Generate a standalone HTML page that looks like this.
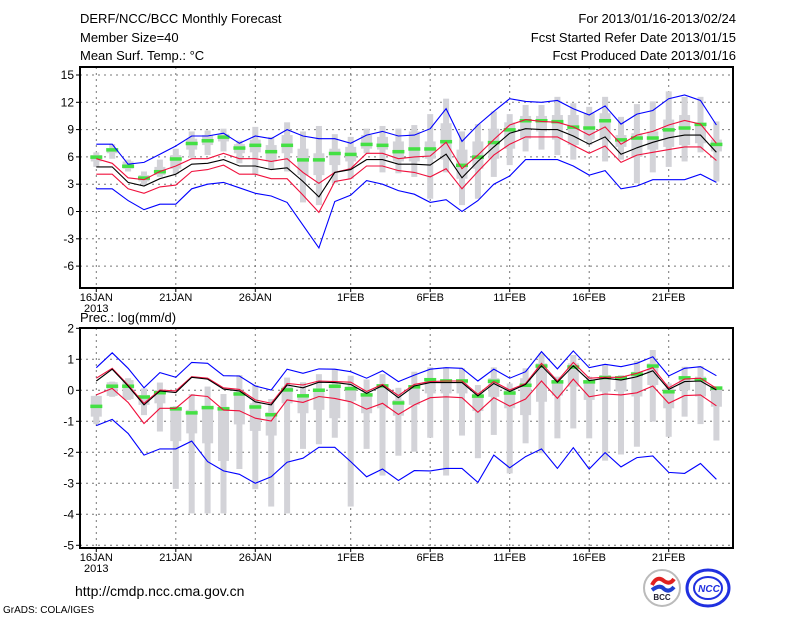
<!DOCTYPE html>
<html><head><meta charset="utf-8"><style>
body{margin:0;background:#fff;width:800px;height:618px;overflow:hidden}
svg{display:block;font-family:"Liberation Sans",sans-serif}
</style></head><body>
<svg id="chart" width="800" height="618" viewBox="0 0 800 618">
<g font-size="13" fill="#000">
<text x="80" y="23">DERF/NCC/BCC Monthly Forecast</text>
<text x="80" y="42">Member Size=40</text>
<text x="80" y="60">Mean Surf. Temp.: °C</text>
<text x="736" y="23" text-anchor="end">For 2013/01/16-2013/02/24</text>
<text x="736" y="42" text-anchor="end">Fcst Started Refer Date 2013/01/15</text>
<text x="736" y="60" text-anchor="end">Fcst Produced Date 2013/01/16</text>
<text x="80" y="322">Prec.: log(mm/d)</text>
</g>
<g id="top"></g>
<g id="bot"></g>
<text x="75" y="596" font-size="14">http://cmdp.ncc.cma.gov.cn</text>
<text x="3" y="613" font-size="10">GrADS: COLA/IGES</text>
<g>
<circle cx="662" cy="588" r="18" fill="#fff" stroke="#bbb" stroke-width="2"/>
<path d="M652 585 q5 -10 12 -4 q6 4 10 -2" stroke="#e02020" stroke-width="4" fill="none"/>
<path d="M652 590 q8 -6 12 -1 q5 4 10 -2" stroke="#2040d0" stroke-width="4" fill="none"/>
<text x="662" y="600" font-size="8" font-weight="bold" text-anchor="middle" fill="#223">BCC</text>
</g>
<g>
<ellipse cx="708" cy="588" rx="21" ry="18" fill="#fff" stroke="#2030e0" stroke-width="3"/>
<ellipse cx="708" cy="588" rx="14" ry="11" fill="none" stroke="#2030e0" stroke-width="2"/>
<text x="709" y="592" font-size="10" font-weight="bold" font-style="italic" text-anchor="middle" fill="#2030e0">NCC</text>
</g>
</svg>
<script>
const dayLabels=["16JAN","21JAN","26JAN","1FEB","6FEB","11FEB","16FEB","21FEB"];
const dayLabelIdx=[0,5,10,16,21,26,31,36];
const tTicks=[15,12,9,6,3,0,-3,-6];
const pTicks=[2,1,0,-1,-2,-3,-4,-5];
// Temperature series
const tBlueHi=[7.4,7.4,5.2,5.4,6.3,7.2,8.3,8.3,8.6,7.5,8.3,8.0,9.0,8.3,8.0,8.0,7.5,8.4,8.8,8.3,8.4,9.1,11.3,7.7,9.5,11.0,12.4,12.1,12.0,12.2,11.3,10.6,11.6,9.6,10.7,11.1,12.4,12.8,12.2,9.5];
const tBlueLo=[2.5,2.5,1.2,0.2,0.8,0.8,2.5,3.0,3.2,2.6,2.0,1.7,1.0,-1.5,-4.0,1.1,1.8,3.4,3.0,2.3,1.9,1.0,1.3,0.0,1.2,3.0,3.9,5.7,5.7,5.7,5.0,4.0,4.5,2.5,2.8,3.5,3.5,3.5,4.1,3.2];
const tRedHi=[5.8,5.3,3.7,3.5,4.4,5.0,5.8,5.8,6.4,5.8,5.8,5.5,5.8,4.3,3.1,4.3,4.7,6.4,6.4,5.8,6.0,6.1,7.6,4.7,6.2,7.9,9.5,10.1,9.9,9.8,9.3,8.4,9.3,7.4,8.4,8.8,9.5,10.0,9.6,7.5];
const tMean=[4.9,4.9,3.2,2.8,3.6,4.1,5.2,5.3,5.7,5.0,5.0,4.6,4.8,3.3,1.6,4.3,4.6,5.7,5.7,5.2,5.2,5.1,6.3,3.7,5.5,7.1,8.6,9.1,9.0,9.0,8.3,7.4,8.2,6.3,7.0,7.6,8.1,8.4,8.4,6.5];
const tRedLo=[4.1,4.1,2.5,2.0,2.7,2.9,4.4,4.6,5.1,4.1,4.1,3.6,3.6,1.8,-0.1,3.3,3.6,5.0,5.0,4.5,4.3,3.8,4.7,2.5,4.4,6.2,7.4,8.2,8.2,8.2,7.3,6.4,7.2,5.4,6.2,6.5,6.8,7.1,7.1,5.6];
const tGreen=[6.0,6.8,5.0,3.7,4.4,5.8,7.5,7.8,8.2,7.0,7.3,6.6,7.3,5.7,5.7,6.4,6.3,7.4,7.3,6.6,6.9,6.9,7.7,5.1,6.0,7.6,9.0,10.0,10.0,9.9,9.3,9.2,10.0,7.9,8.1,8.1,9.0,9.2,9.6,7.4];
const tMax=[6.5,7.4,5.7,4.4,5.7,6.9,8.8,8.9,9.1,7.8,9.3,8.2,9.8,8.8,9.4,8.5,8.2,9.1,9.4,9.1,9.5,10.7,12.4,8.8,9.6,11.0,10.7,11.7,11.7,12.6,11.9,11.5,12.6,10.4,11.8,12.1,13.2,12.6,12.6,9.9];
const tMin=[4.9,5.8,4.4,2.9,3.8,4.1,5.9,6.2,6.6,5.3,4.1,4.6,4.4,1.0,0.7,3.1,3.6,6.4,4.3,4.2,3.8,1.4,4.3,0.7,1.4,3.8,5.1,6.6,6.8,6.2,5.7,7.3,5.5,5.7,3.1,4.3,4.9,5.5,6.5,3.3];
const tQ3=[6.2,6.9,5.5,4.0,4.9,6.2,8.0,8.4,8.5,7.4,7.9,7.3,8.4,6.9,6.4,6.9,7.1,8.4,8.2,7.7,8.8,7.7,9.7,6.8,7.7,9.1,9.8,10.5,10.5,10.6,10.6,10.8,10.8,8.4,8.6,8.8,10.1,10.6,9.6,7.9];
const tQ1=[5.5,6.4,4.7,3.3,4.0,4.7,6.8,7.3,7.7,6.4,6.5,5.5,6.4,4.0,4.0,5.1,5.5,6.9,6.8,5.5,5.5,5.8,5.7,3.6,4.7,5.8,6.9,8.0,8.8,7.9,7.3,7.9,7.9,7.1,6.0,6.8,7.1,7.3,7.5,6.6];
// Precipitation series
const pBlueHi=[0.73,1.21,0.71,0.08,0.57,0.42,0.90,0.87,0.47,0.46,0.14,0.01,0.68,0.55,0.69,0.68,0.60,0.39,0.63,0.28,0.49,0.68,0.73,0.71,0.30,0.68,0.39,0.60,1.25,0.69,1.27,0.73,0.84,0.76,0.87,1.08,0.46,0.71,0.76,0.47];
const pBlueLo=[-1.14,-0.94,-1.39,-2.09,-1.89,-1.89,-1.64,-2.30,-2.60,-2.71,-3.00,-2.79,-2.32,-2.19,-1.84,-1.84,-2.30,-2.79,-2.54,-2.91,-2.59,-2.60,-2.52,-2.52,-2.97,-2.09,-2.50,-2.14,-1.89,-2.52,-1.85,-2.54,-2.01,-2.47,-2.17,-2.12,-2.65,-2.68,-2.36,-2.87];
const pRedHi=[0.39,0.71,0.17,-0.42,0.01,-0.02,0.44,0.39,0.08,0.03,-0.31,-0.42,0.22,0.17,0.30,0.28,0.26,-0.04,0.19,-0.17,0.19,0.28,0.30,0.30,-0.13,0.28,0.01,0.22,0.87,0.30,0.90,0.39,0.42,0.42,0.55,0.73,0.08,0.36,0.39,0.06];
const pMean=[0.30,0.68,0.14,-0.47,-0.02,-0.07,0.42,0.36,0.04,-0.02,-0.37,-0.47,0.17,0.08,0.26,0.25,0.19,-0.10,0.15,-0.24,0.14,0.25,0.25,0.25,-0.18,0.22,-0.04,0.19,0.79,0.26,0.79,0.31,0.39,0.33,0.44,0.63,0.03,0.28,0.30,0.01];
const pRedLo=[-0.15,0.06,-0.39,-1.07,-0.58,-0.58,-0.15,-0.20,-0.64,-0.66,-0.90,-0.99,-0.31,-0.39,-0.20,-0.26,-0.37,-0.61,-0.42,-0.78,-0.47,-0.24,-0.21,-0.24,-0.71,-0.24,-0.51,-0.28,0.30,-0.26,0.36,-0.21,-0.12,-0.15,-0.08,0.14,-0.42,-0.17,-0.15,-0.50];
const pGreen=[-0.51,0.14,0.14,-0.21,-0.07,-0.59,-0.72,-0.55,-0.59,-0.11,-0.53,-0.78,0.02,-0.17,0.01,0.14,0.06,-0.14,0.15,-0.40,0.12,0.35,0.31,0.31,-0.18,0.30,-0.08,0.17,0.79,0.28,0.76,0.28,0.42,0.41,0.53,0.79,-0.04,0.41,0.35,0.08];
const pMax=[-0.18,0.28,0.39,0.06,0.25,-0.51,-0.12,0.12,-0.12,0.49,0.17,-0.28,0.41,0.26,0.52,0.68,0.47,0.35,0.52,0.08,0.60,0.74,0.74,0.71,0.17,0.74,0.22,0.71,1.19,0.44,1.14,0.44,0.84,0.49,0.95,1.30,0.22,0.76,0.78,0.08];
const pMin=[-1.09,-0.21,-0.31,-0.80,-1.33,-3.18,-3.97,-3.97,-3.97,-2.54,-3.19,-3.75,-3.97,-1.89,-1.74,-1.53,-3.75,-1.89,-2.75,-2.11,-1.98,-1.53,-2.75,-1.46,-2.19,-1.44,-2.68,-1.71,-2.03,-1.55,-1.23,-1.55,-2.27,-2.07,-1.82,-1.01,-1.50,-0.85,-1.09,-1.62];
const pQ3=[-0.18,0.26,0.33,-0.15,0.01,-0.53,-0.63,-0.53,-0.53,-0.04,-0.42,-0.71,0.12,-0.15,0.06,0.19,0.12,-0.10,0.17,-0.31,0.17,0.39,0.33,0.33,-0.10,0.39,0.06,0.39,0.87,0.33,0.87,0.33,0.49,0.39,0.60,0.87,0.06,0.44,0.44,0.06];
const pQ1=[-0.85,-0.18,-0.28,-0.47,-0.42,-1.64,-1.39,-1.71,-2.28,-1.10,-1.31,-1.46,-0.42,-0.74,-0.63,-0.90,-0.34,-0.74,-0.58,-0.82,-0.47,-0.10,-0.10,-0.10,-0.67,-0.21,-0.58,-0.80,-0.37,-0.17,0.12,-0.31,-0.04,-0.04,-0.20,0.17,-0.58,0.00,-0.20,-0.53];

const NS="http://www.w3.org/2000/svg";
const X0=96.3,DX=15.9,LEFT=80,RIGHT=733;
function xOf(i){return X0+DX*i;}
function mk(tag,attrs,parent){const e=document.createElementNS(NS,tag);for(const k in attrs)e.setAttribute(k,attrs[k]);parent.appendChild(e);return e;}

function panel(g,cfg){
  const yOf=v=>cfg.y0-cfg.k*v;
  // grid
  cfg.ticks.forEach(t=>{
    const y=yOf(t);
    if(y>cfg.top+2&&y<cfg.bottom-2){const l=mk('line',{x1:LEFT,x2:RIGHT,y1:y,y2:y,stroke:'#777','stroke-dasharray':'2,4'},g);
    
    }
    const tl=mk('text',{x:74,y:y+4,'font-size':12,'text-anchor':'end'},g);tl.textContent=t;
    
    
    mk('line',{x1:LEFT-4,x2:LEFT,y1:y,y2:y,stroke:'#000'},g);
  });
  dayLabelIdx.forEach((d,j)=>{
    const x=xOf(d);
    const l=mk('line',{x1:x,x2:x,y1:cfg.top,y2:cfg.bottom,stroke:'#777','stroke-dasharray':'2,4'},g);
    
    
    mk('line',{x1:x,x2:x,y1:cfg.bottom,y2:cfg.bottom+4,stroke:'#000'},g);
    const tl=mk('text',{x:x,y:cfg.bottom+13,'font-size':11,'text-anchor':'middle'},g);tl.textContent=dayLabels[j];
    
    
  });
  const yr=mk('text',{x:xOf(0),y:cfg.bottom+24,'font-size':11,'text-anchor':'middle'},g);yr.textContent='2013';
  
  
  // bars
  for(let i=0;i<cfg.max.length;i++){
    const x=xOf(i);
    const b=mk('rect',{x:x-3,y:yOf(cfg.max[i]),width:6,height:Math.max(1,yOf(cfg.min[i])-yOf(cfg.max[i])),fill:'#d3d3d8'},g);
    
    
    const q=mk('rect',{x:x-5.5,y:yOf(cfg.q3[i]),width:11,height:Math.max(1,yOf(cfg.q1[i])-yOf(cfg.q3[i])),fill:'#d3d3d8'},g);
    
    
  }
  for(let i=0;i<cfg.green.length;i++){
    const m=mk('rect',{x:xOf(i)-6,y:yOf(cfg.green[i])-1.5,width:12,height:3.5,fill:'#44e044'},g);
    
    
  }
  cfg.lines.forEach(([arr,col,name])=>{
    const p=mk('polyline',{points:arr.map((v,i)=>xOf(i).toFixed(1)+','+yOf(v).toFixed(1)).join(' '),fill:'none',stroke:col,'stroke-width':1.1},g);
    
    
  });
  const fr=mk('rect',{x:LEFT,y:cfg.top,width:RIGHT-LEFT,height:cfg.bottom-cfg.top,fill:'none',stroke:'#000','stroke-width':2},g);
  
  
}
panel(document.getElementById('top'),{y0:211.5,k:9.1,top:67,bottom:288,ticks:tTicks,max:tMax,min:tMin,q3:tQ3,q1:tQ1,green:tGreen,
 lines:[[tBlueHi,'#0000ff','blue-upper-line'],[tBlueLo,'#0000ff','blue-lower-line'],[tRedHi,'#f0103c','red-upper-line'],[tRedLo,'#f0103c','red-lower-line'],[tMean,'#000','ensemble-mean-line']]});
panel(document.getElementById('bot'),{y0:390.3,k:31,top:328,bottom:548,ticks:pTicks,max:pMax,min:pMin,q3:pQ3,q1:pQ1,green:pGreen,
 lines:[[pBlueHi,'#0000ff','blue-upper-line'],[pBlueLo,'#0000ff','blue-lower-line'],[pRedHi,'#f0103c','red-upper-line'],[pRedLo,'#f0103c','red-lower-line'],[pMean,'#000','ensemble-mean-line']]});
</script>
</body></html>
